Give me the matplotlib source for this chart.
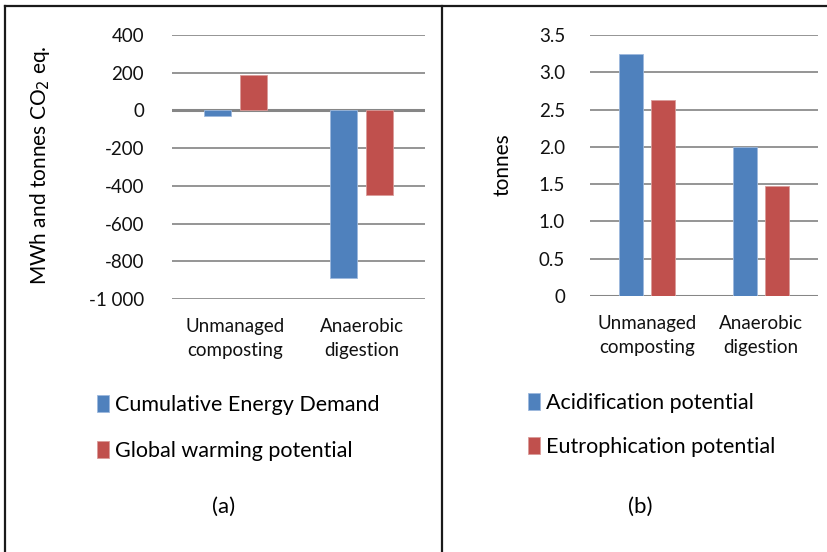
import numpy as np
import matplotlib.pyplot as plt
from matplotlib.lines import Line2D

plt.rcParams['font.family'] = ['Lato', 'DejaVu Sans']

# data
categories = ["Unmanaged\ncomposting", "Anaerobic\ndigestion"]

energy_demand = [-27, -890]        # MWh
global_warming = [190, -450]       # tonnes CO2 eq.

acidification = [3.24, 2.0]        # tonnes
eutrophication = [2.63, 1.48]      # tonnes

blue = "#4F81BD"
red = "#C0504D"
grid_col = "#8C8C8C"

W, H = 828, 552
fig = plt.figure(figsize=(W / 100, H / 100), dpi=100)


def px_axes(x0, x1, y_top, y_bot):
    return fig.add_axes([x0 / W, 1 - y_bot / H, (x1 - x0) / W, (y_bot - y_top) / H])


def style(ax, yticks, ylabels, pad):
    for s in ax.spines.values():
        s.set_visible(False)
    ax.set_xlim(-0.5, 1.5)
    ax.set_yticks(yticks)
    ax.set_yticklabels(ylabels)
    ax.tick_params(axis="y", length=0, pad=pad, labelsize=13.5, colors="#111111")
    ax.tick_params(axis="x", length=0, pad=14, labelsize=13.5, colors="#111111")
    ax.set_xticks(range(len(categories)))
    ax.set_xticklabels(categories, linespacing=1.45)
    ax.grid(axis="y", color=grid_col, linewidth=1.3)
    ax.set_axisbelow(True)
    ax.axhline(0, color="#868686", linewidth=2.2, zorder=1)


x = np.arange(len(categories))
bw = 0.215
off = 0.142

# ---- panel (a)
ax1 = px_axes(172, 425, 35, 299)
b1 = ax1.bar(x - off, energy_demand, bw, color=blue, edgecolor="#9DB9DE", linewidth=0.6, zorder=2,
             label="Cumulative Energy Demand")
b2 = ax1.bar(x + off, global_warming, bw, color=red, edgecolor="#DA9C9A", linewidth=0.6, zorder=2,
             label="Global warming potential")
ax1.set_ylim(-1000, 400)
style(ax1, np.arange(-1000, 401, 200),
      ["-1 000", "-800", "-600", "-400", "-200", "0", "200", "400"], 20)
fig.text(40 / W, 1 - 165 / H, "MWh and tonnes CO$_2$ eq.", rotation=90,
         ha="center", va="center", fontsize=15)
ax1.legend(handles=[b1, b2], loc="center left", bbox_to_anchor=(78 / W, 1 - 428 / H),
           bbox_transform=fig.transFigure, frameon=False, fontsize=15.5,
           handlelength=0.55, handleheight=0.8, handletextpad=0.25, labelspacing=1.2)
fig.text(224 / W, 1 - 507 / H, "(a)", ha="center", va="center", fontsize=16)

# ---- panel (b)
ax2 = px_axes(590, 818, 35, 296)
b3 = ax2.bar(x - off, acidification, bw, color=blue, edgecolor="#9DB9DE", linewidth=0.6, zorder=2,
             label="Acidification potential")
b4 = ax2.bar(x + off, eutrophication, bw, color=red, edgecolor="#DA9C9A", linewidth=0.6, zorder=2,
             label="Eutrophication potential")
ax2.set_ylim(0, 3.5)
style(ax2, np.arange(0, 3.51, 0.5),
      ["0", "0.5", "1.0", "1.5", "2.0", "2.5", "3.0", "3.5"], 18)
fig.text(503 / W, 1 - 165 / H, "tonnes", rotation=90,
         ha="center", va="center", fontsize=15)
ax2.legend(handles=[b3, b4], loc="center left", bbox_to_anchor=(509 / W, 1 - 425 / H),
           bbox_transform=fig.transFigure, frameon=False, fontsize=15.5,
           handlelength=0.55, handleheight=0.8, handletextpad=0.25, labelspacing=1.1)
fig.text(640 / W, 1 - 507 / H, "(b)", ha="center", va="center", fontsize=16)

# panel borders
for xs, ys in [([5 / W, 1], [1 - 6 / H, 1 - 6 / H]),
               ([5.5 / W, 5.5 / W], [1 - 6 / H, 0]),
               ([442 / W, 442 / W], [1 - 6 / H, 0])]:
    fig.add_artist(Line2D(xs, ys, color="#1a1a1a", linewidth=1.6, transform=fig.transFigure))

fig.savefig("out.png", dpi=100)
